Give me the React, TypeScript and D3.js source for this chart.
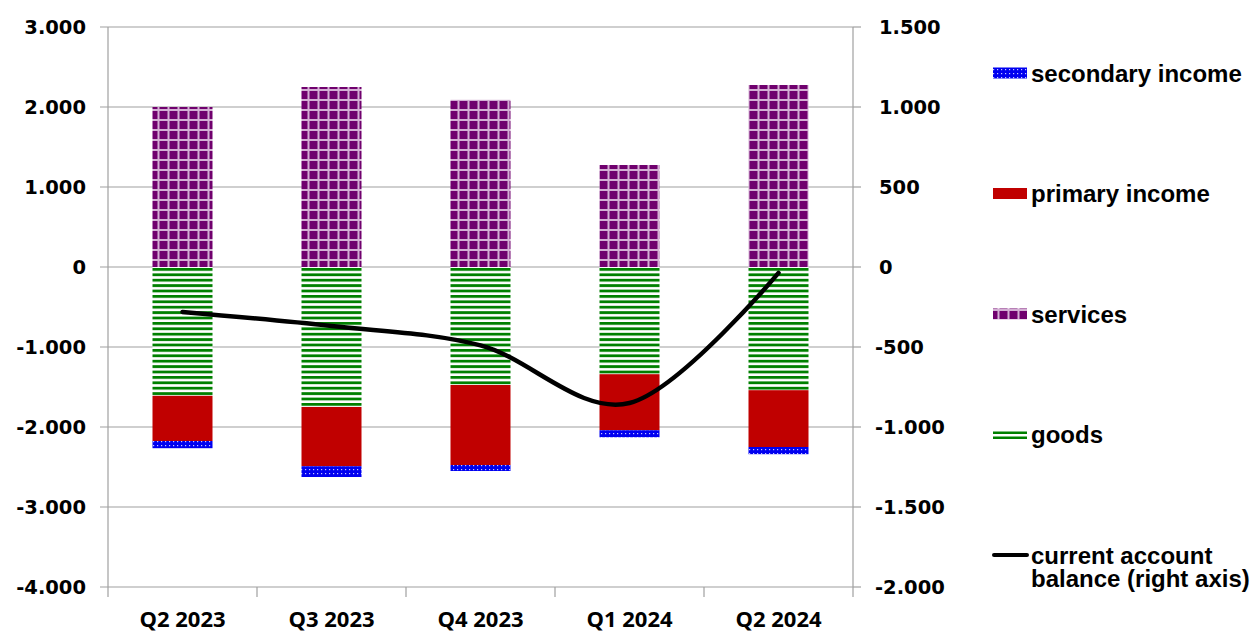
import React from 'react';
import * as d3 from 'd3';

const quarters = ['Q2 2023', 'Q3 2023', 'Q4 2023', 'Q1 2024', 'Q2 2024'];
const goods = [-1610, -1750, -1475, -1340, -1540];
const services = [2000, 2250, 2090, 1275, 2275];
const primaryIncome = [-565, -740, -1000, -700, -710];
const secondaryIncome = [-90, -135, -75, -88, -90];
const currentAccount = [-281, -369, -490, -850, -37];

const leftTicks = [3000, 2000, 1000, 0, -1000, -2000, -3000, -4000];
const rightTicks = [1500, 1000, 500, 0, -500, -1000, -1500, -2000];

const W = 1253;
const H = 633;
const margin = { left: 108, right: 400, top: 27, bottom: 46 };

const fmt = (v: number) => {
    const s = d3.format(',')(Math.abs(v)).replace(/,/g, '.');
    return (v < 0 ? '-' : '') + s;
};

const App: React.FC = () => {
    const x0 = margin.left;
    const x1 = W - margin.right; // right axis at 853
    const y0 = margin.top;
    const y1 = H - margin.bottom;

    const x = d3.scaleBand<string>().domain(quarters).range([x0, x1]).padding(0);
    const yL = d3.scaleLinear().domain([-4000, 3000]).range([y1, y0]);
    const yR = d3.scaleLinear().domain([-2000, 1500]).range([y1, y0]);
    const barW = 60;

    const line = d3.line<number>()
        .x((_, i) => (x(quarters[i]) as number) + x.bandwidth() / 2)
        .y(d => yR(d))
        .curve(d3.curveCardinal.tension(0));

    // stacked negative parts: goods, primary, secondary
    const negStack = quarters.map((_, i) => {
        const g = goods[i];
        const p = g + primaryIncome[i];
        const s = p + secondaryIncome[i];
        return [
            { key: 'goods', from: 0, to: g },
            { key: 'primary', from: g, to: p },
            { key: 'secondary', from: p, to: s },
        ];
    });

    const fills: Record<string, string> = {
        goods: 'url(#pGoods)',
        primary: '#C00000',
        secondary: 'url(#pSecondary)',
        services: 'url(#pServices)',
    };

    const legendItems = [
        { key: 'secondary', label: ['secondary income'] },
        { key: 'primary', label: ['primary income'] },
        { key: 'services', label: ['services'] },
        { key: 'goods', label: ['goods'] },
        { key: 'line', label: ['current account', 'balance (right axis)'] },
    ];

    const axisFont = { fontFamily: '"DejaVu Sans", Verdana, sans-serif', fontWeight: 700, fontSize: 19.5 };
    const legendFont = { fontFamily: '"Liberation Sans", Arial, sans-serif', fontWeight: 700, fontSize: 24 };

    return (
        <svg width={W} height={H} style={{ position: 'absolute', left: 0, top: 0, background: '#fff' }}>
            <defs>
                <pattern id="pServices" width={10} height={10} patternUnits="userSpaceOnUse" x={x0 + 0.5} y={0}>
                    <rect width={10} height={10} fill="#d4b0d4" />
                    <rect x={1} y={1} width={8} height={8} fill="#70006e" />
                </pattern>
                <pattern id="pGoods" width={6} height={5.4} patternUnits="userSpaceOnUse" y={yL(0) + 1}>
                    <rect width={6} height={5.4} fill="#fff" />
                    <rect y={0} width={6} height={2.8} fill="#008000" />
                </pattern>
                <pattern id="pSecondary" width={4} height={4} patternUnits="userSpaceOnUse">
                    <rect width={4} height={4} fill="#0000f0" />
                    <rect x={1} y={1} width={1.2} height={1.2} fill="#c8c8ff" />
                </pattern>
            </defs>

            {/* gridlines */}
            {leftTicks.map(t => (
                <line key={'g' + t} x1={x0 - 8} x2={x1} y1={yL(t)} y2={yL(t)}
                    stroke="#a0a0a0" strokeWidth={1.2} />
            ))}
            {rightTicks.map(t => (
                <line key={'r' + t} x1={x1} x2={x1 + 8} y1={yR(t)} y2={yR(t)}
                    stroke="#a0a0a0" strokeWidth={1.2} />
            ))}
            <line x1={x0} x2={x0} y1={y0} y2={y1} stroke="#a0a0a0" strokeWidth={1.2} />
            <line x1={x1} x2={x1} y1={y0} y2={y1} stroke="#a0a0a0" strokeWidth={1.2} />
            {[...quarters.map(q => x(q) as number), x1].map((v, i) => (
                <line key={'t' + i} x1={v} x2={v} y1={y1} y2={y1 + 10} stroke="#a0a0a0" strokeWidth={1.2} />
            ))}

            {/* bars */}
            {quarters.map((q, i) => {
                const cx = (x(q) as number) + x.bandwidth() / 2;
                return (
                    <g key={q}>
                        <rect x={cx - barW / 2} width={barW} y={yL(services[i])}
                            height={yL(0) - yL(services[i])} fill={fills.services} />
                        {negStack[i].map(s => (
                            <rect key={s.key} x={cx - barW / 2} width={barW} y={yL(s.from)}
                                height={yL(s.to) - yL(s.from)} fill={fills[s.key]} />
                        ))}
                    </g>
                );
            })}

            {/* current account line */}
            <path d={line(currentAccount) || ''} fill="none" stroke="#000" strokeWidth={4.5}
                strokeLinecap="round" strokeLinejoin="round" />

            {/* axis labels */}
            {leftTicks.map(t => (
                <text key={'l' + t} x={86} y={yL(t)} dy="0.36em" textAnchor="end" {...axisFont}>{fmt(t)}</text>
            ))}
            {rightTicks.map(t => (
                <text key={'rt' + t} x={t < 0 ? 875 : 879} y={yR(t)} dy="0.36em" textAnchor="start" {...axisFont}>{fmt(t)}</text>
            ))}
            {quarters.map(q => (
                <text key={'c' + q} x={(x(q) as number) + x.bandwidth() / 2} y={619} dy="0.36em"
                    textAnchor="middle" fontFamily='"Open Sans", sans-serif' fontWeight={700} fontSize={22}>{q}</text>
            ))}

            {/* legend */}
            {legendItems.map((it, i) => {
                const cy = 73 + i * 120.5;
                return (
                    <g key={it.key}>
                        {it.key === 'line' ? (
                            <line x1={994} x2={1027} y1={cy} y2={cy} stroke="#000" strokeWidth={4} strokeLinecap="round" />
                        ) : it.key === 'goods' ? (
                            <g>
                                <rect x={993} y={cy - 3} width={34} height={2.5} fill="#008000" />
                                <rect x={993} y={cy + 2} width={34} height={2.5} fill="#008000" />
                            </g>
                        ) : (
                            <rect x={993} y={cy - 5.5} width={34} height={11} fill={fills[it.key]} />
                        )}
                        <text y={cy} {...legendFont}>
                            {it.label.map((l, j) => (
                                <tspan key={j} x={1031} dy={j === 0 ? '0.36em' : 23}>{l}</tspan>
                            ))}
                        </text>
                    </g>
                );
            })}
        </svg>
    );
};

export default App;
